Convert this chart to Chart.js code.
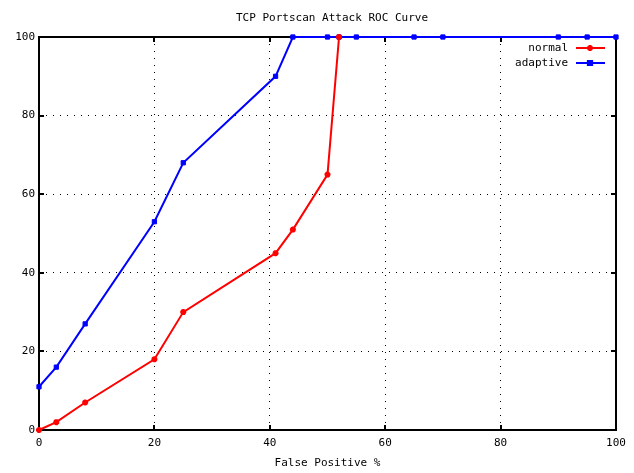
<!DOCTYPE html>
<html>
<head>
<meta charset="utf-8">
<script src="https://cdn.jsdelivr.net/npm/chart.js@4.4.1/dist/chart.umd.min.js"></script>
<style>
  html, body { margin: 0; padding: 0; background: #fff; }
  #wrap { width: 634px; height: 473px; }
</style>
</head>
<body>
<div id="wrap"><canvas id="roc"></canvas></div>
<script>
const chartTitle = "TCP Portscan Attack ROC Curve";
const xLabel = "False Positive %";

const normalX = [0, 3, 8, 20, 25, 41, 44, 50, 52];
const normalY = [0, 2, 7, 18, 30, 45, 51, 65, 100];

const adaptiveX = [0, 3, 8, 20, 25, 41, 44, 50, 52, 55, 65, 70, 90, 95, 100];
const adaptiveY = [11, 16, 27, 53, 68, 90, 100, 100, 100, 100, 100, 100, 100, 100, 100];

const xTicks = [0, 20, 40, 60, 80, 100];
const yTicks = [0, 20, 40, 60, 80, 100];

const FONT = "'DejaVu Sans Mono', 'Liberation Mono', monospace";

function toPoints(xs, ys) {
  return xs.map((x, i) => ({ x: x, y: ys[i] }));
}

// hide the grid line on the frame, dotted elsewhere
function gridColor(c) {
  if (c.tick && (c.tick.value === 0 || c.tick.value === 100)) return "rgba(0,0,0,0)";
  return "#000";
}

// gnuplot look: frame, inward ticks on all sides, title, legend inside top right
const gnuplotFrame = {
  id: "gnuplotFrame",
  beforeDatasetsDraw(chart) {
    const ctx = chart.ctx;
    const a = chart.chartArea;
    const xs = chart.scales.x, ys = chart.scales.y;
    ctx.save();
    ctx.strokeStyle = "#000";
    ctx.lineWidth = 2;
    ctx.strokeRect(a.left, a.top, a.right - a.left, a.bottom - a.top);
    ctx.beginPath();
    xTicks.forEach(v => {
      const px = Math.round(xs.getPixelForValue(v));
      ctx.moveTo(px, a.bottom); ctx.lineTo(px, a.bottom - 5);
      ctx.moveTo(px, a.top); ctx.lineTo(px, a.top + 5);
    });
    yTicks.forEach(v => {
      const py = Math.round(ys.getPixelForValue(v));
      ctx.moveTo(a.left, py); ctx.lineTo(a.left + 5, py);
      ctx.moveTo(a.right, py); ctx.lineTo(a.right - 5, py);
    });
    ctx.stroke();
    ctx.restore();
  },
  afterDraw(chart) {
    const ctx = chart.ctx;
    ctx.save();
    ctx.fillStyle = "#000";
    ctx.font = "11px " + FONT;
    ctx.textAlign = "center";
    ctx.textBaseline = "middle";
    ctx.fillText(chartTitle, 332, 18);

    // legend
    ctx.textAlign = "right";
    chart.data.datasets.forEach((ds, i) => {
      const y = 48 + i * 15;
      ctx.fillStyle = "#000";
      ctx.fillText(ds.label, 568, y);
      ctx.strokeStyle = ds.borderColor;
      ctx.fillStyle = ds.borderColor;
      ctx.lineWidth = 2;
      ctx.beginPath();
      ctx.moveTo(576, y); ctx.lineTo(605, y);
      ctx.stroke();
      Chart.helpers.drawPoint(ctx, {
        pointStyle: ds.pointStyle,
        radius: ds.pointRadius,
        borderWidth: ds.pointBorderWidth || 1
      }, 590, y);
    });
    ctx.restore();
  }
};

const ctx = document.getElementById("roc").getContext("2d");

const myChart = new Chart(ctx, {
  type: "line",
  data: {
    datasets: [
      {
        label: "normal",
        data: toPoints(normalX, normalY),
        borderColor: "#ff0000",
        backgroundColor: "#ff0000",
        borderWidth: 2,
        pointStyle: "star",
        pointRadius: 3,
        pointBorderWidth: 2,
        pointBackgroundColor: "#ff0000",
        pointBorderColor: "#ff0000",
        tension: 0,
        clip: false
      },
      {
        label: "adaptive",
        data: toPoints(adaptiveX, adaptiveY),
        borderColor: "#0000ff",
        backgroundColor: "#0000ff",
        borderWidth: 2,
        pointStyle: "rect",
        pointRadius: 3,
        pointBorderWidth: 1,
        pointBackgroundColor: "#0000ff",
        pointBorderColor: "#0000ff",
        tension: 0,
        clip: false
      }
    ]
  },
  options: {
    responsive: true,
    maintainAspectRatio: false,
    animation: false,
    layout: { padding: { top: 37, right: 18, bottom: 0, left: 0 } },
    plugins: {
      legend: { display: false },
      title: { display: false },
      tooltip: { enabled: false }
    },
    scales: {
      x: {
        type: "linear",
        min: 0,
        max: 100,
        afterFit: (scale) => { scale.height = 43; },
        afterBuildTicks: (scale) => { scale.ticks = xTicks.map(v => ({ value: v })); },
        border: { display: false, dash: [1, 6] },
        grid: {
          drawTicks: false,
          color: gridColor,
          lineWidth: 1
        },
        ticks: {
          padding: 7,
          color: "#000",
          font: { family: FONT, size: 11 },
          maxRotation: 0
        },
        title: {
          display: true,
          text: xLabel,
          color: "#000",
          font: { family: FONT, size: 11 },
          padding: { top: 0, bottom: 3 }
        }
      },
      y: {
        type: "linear",
        min: 0,
        max: 100,
        afterFit: (scale) => { scale.width = 39; },
        afterBuildTicks: (scale) => { scale.ticks = yTicks.map(v => ({ value: v })); },
        border: { display: false, dash: [1, 6] },
        grid: {
          drawTicks: false,
          color: gridColor,
          lineWidth: 1
        },
        ticks: {
          padding: 4,
          color: "#000",
          font: { family: FONT, size: 11 }
        }
      }
    }
  },
  plugins: [gnuplotFrame]
});
</script>
</body>
</html>
